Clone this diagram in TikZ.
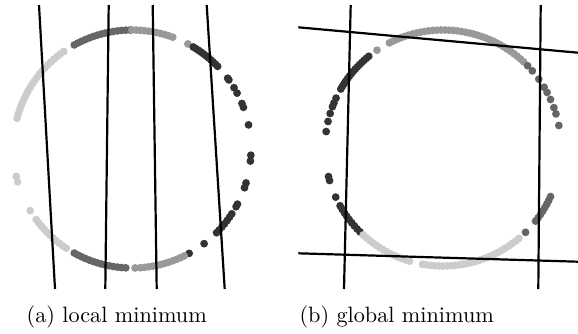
\documentclass[tikz,border=0pt]{standalone}
\usepackage{graphicx}
\begin{document}
\begin{tikzpicture}[x=1pt,y=-1pt]
\useasboundingbox (0,0) rectangle (578,333);
\definecolor{cA}{gray}{0.2}
\definecolor{cB}{gray}{0.4}
\definecolor{cC}{gray}{0.6}
\definecolor{cD}{gray}{0.8}
\tikzset{ln/.style={line width=2.2pt, black},
  captext/.style={anchor=base, inner sep=0pt}}
\newcommand{\dotsat}[3]{\foreach \a in {#3} \fill[#1] (\a:#2) circle (3.9pt);}
% left panel points
\begin{scope}[shift={(132,149)}]
\dotsat{cB}{119pt}{91,93,...,119}
\dotsat{cC}{119pt}{70,72,...,90,62}
\dotsat{cA}{119pt}{44,45.5,...,60,36.5,35.5,31,28,22.5,20.5,11.7,-3,-5.8,-16.6,-19,-27.6,-29,-33,-35,-37,-39,-41,-43,-44.7,-52.7,-61.3}
\dotsat{cC}{119pt}{-86,-84,...,-64,-88.5}
\dotsat{cB}{119pt}{-119,-117,...,-92}
\dotsat{cD}{119pt}{-143.6,-141.6,...,-121.8,-148.8,-164,-166.7,125,127,...,165}
\end{scope}
% right panel points
\begin{scope}[shift={(443,148)}]
\dotsat{cC}{118pt}{47,49,...,117,124}
\dotsat{cB}{118pt}{44.2,40.8,35.7,31,28.1,24.3,20,16.8,11}
\dotsat{cA}{118pt}{129,130.5,...,151,155,157.5,159.5,163,167,172}
\dotsat{cA}{118pt}{-166,-164,-155.4,-150.7,-148.7,...,-133.6}
\dotsat{cD}{118pt}{-132.5,-130.5,...,-105.8,-100,-98,...,-50}
\dotsat{cB}{118pt}{-45.6,-38.3,-36.3,...,-23.8}
\end{scope}
% left lines
\coordinate (l1a) at (39,5);  \coordinate (l1b) at (55,289);
\coordinate (l2a) at (108.7,5); \coordinate (l2b) at (105.3,289);
\coordinate (l3a) at (152.7,5); \coordinate (l3b) at (156.7,289);
\coordinate (l4a) at (206.7,5); \coordinate (l4b) at (224.7,289);
\draw[ln] (l1a) -- (l1b);
\draw[ln] (l2a) -- (l2b);
\draw[ln] (l3a) -- (l3b);
\draw[ln] (l4a) -- (l4b);
% right lines
\coordinate (r1a) at (298.3,27.3); \coordinate (r1b) at (578,52.7);
\coordinate (r2a) at (298.3,253.3); \coordinate (r2b) at (578,261.7);
\coordinate (r3a) at (350.7,5); \coordinate (r3b) at (344,289);
\coordinate (r4a) at (540.7,5); \coordinate (r4b) at (538.3,289);
\draw[ln] (r1a) -- (r1b);
\draw[ln] (r2a) -- (r2b);
\draw[ln] (r3a) -- (r3b);
\draw[ln] (r4a) -- (r4b);
% captions
\node[captext] (capa) at (116.7,322) {\scalebox{2.22}{(a) local minimum}};
\node[captext] (capb) at (396.7,322) {\scalebox{2.22}{(b) global minimum}};
\end{tikzpicture}
\end{document}
